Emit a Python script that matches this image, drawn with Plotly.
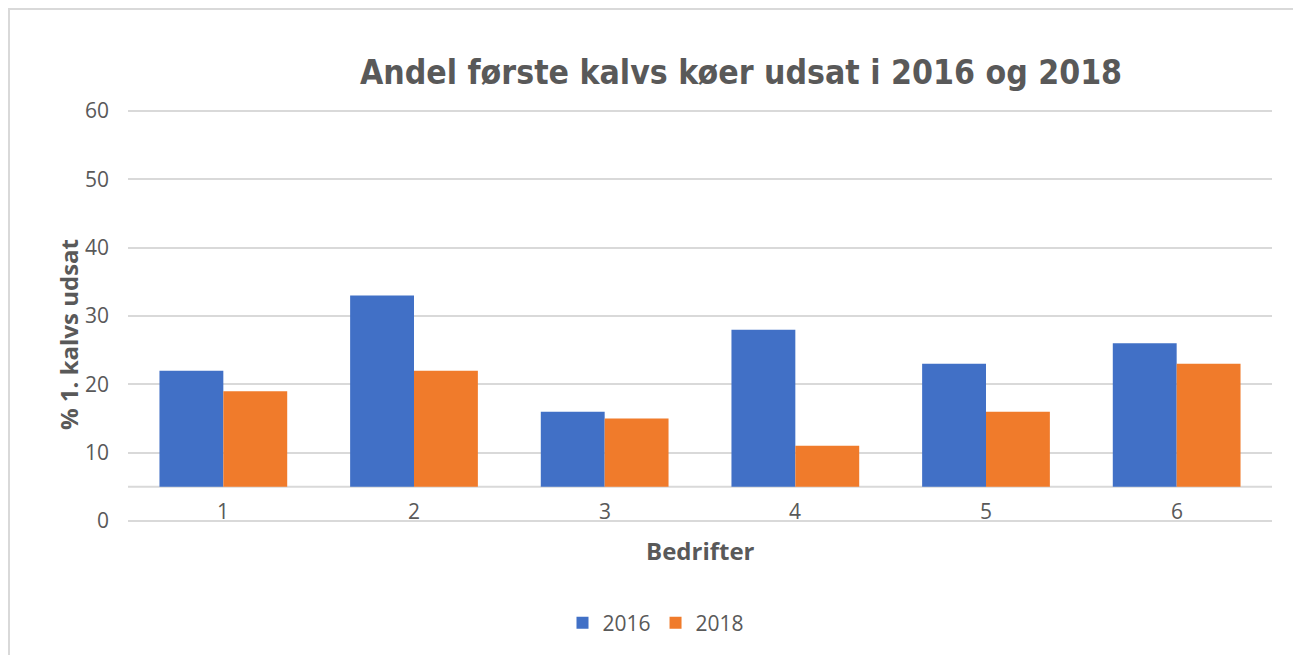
import plotly.graph_objects as go

categories = ["1", "2", "3", "4", "5", "6"]
values_2016 = [22, 33, 16, 28, 23, 26]
values_2018 = [19, 22, 15, 11, 16, 23]
series_names = ["2016", "2018"]
floor_value = 5  # visual 3D floor of the original chart
y_ticks = [0, 10, 20, 30, 40, 50, 60]

title_text = "Andel første kalvs køer udsat i 2016 og 2018"
x_title = "Bedrifter"
y_title = "% 1. kalvs udsat"

# the page body adds an 8px offset; figure coordinates are page coordinates minus OFF
OFF = 8
W, H = 1301, 655
PAD = 2  # px of extra room above 60 and below 0 so the edge gridlines are drawn
ML, MT = 128 - OFF, 111 - OFF - PAD
MR = W - (1272 - OFF)
MB = H - (521 - OFF) - PAD
PW = W - ML - MR
PH = H - MT - MB
UNIT = (521 - 111) / 60.0
Y_LO = -PAD / UNIT
Y_HI = 60 + PAD / UNIT

GREY_TXT = "#595959"
GRID = "#D9D9D9"
BLUE = "#4170C6"
ORANGE = "#F07B2B"

fig = go.Figure()
for name, vals, col in [(series_names[0], values_2016, BLUE), (series_names[1], values_2018, ORANGE)]:
    fig.add_trace(go.Bar(
        x=categories,
        y=[v - floor_value for v in vals],
        base=floor_value,
        name=name,
        marker=dict(color=col, line=dict(width=0)),
        customdata=vals,
        hovertemplate="%{x}: %{customdata}<extra>" + name + "</extra>",
    ))

def px_x(px):
    return (px - OFF - ML) / PW

def px_y(py):
    return (H - MB - (py - OFF)) / PH

annotations = [
    dict(text=x_title, xref="paper", yref="paper",
         x=px_x(700), y=px_y(550),
         xanchor="center", yanchor="middle", showarrow=False,
         font=dict(size=24, color=GREY_TXT, weight="bold")),
    dict(text=y_title, xref="paper", yref="paper",
         x=px_x(68), y=px_y(335),
         xanchor="center", yanchor="middle", showarrow=False, textangle=-90,
         font=dict(size=24, color=GREY_TXT, weight="bold")),
]
# category labels sit on the chart floor, just above the zero line
for i, c in enumerate(categories):
    annotations.append(dict(
        text=c, xref="x", yref="y", x=i, y=0,
        xanchor="center", yanchor="bottom", yshift=-6, showarrow=False,
        font=dict(size=21, color=GREY_TXT),
    ))

fig.update_layout(
    width=W, height=H,
    margin=dict(l=ML, r=MR, t=MT, b=MB, pad=0),
    paper_bgcolor="white", plot_bgcolor="white",
    barmode="group", bargap=0.33, bargroupgap=0,
    font=dict(family="Open Sans, Liberation Sans, sans-serif", color=GREY_TXT),
    title=dict(
        text=title_text,
        x=(741 - OFF) / W, xanchor="center",
        y=1 - (72 - OFF) / H, yanchor="middle",
        font=dict(family="DejaVu Sans Condensed, DejaVu Sans, sans-serif",
                  size=33.5, color=GREY_TXT, weight="bold"),
    ),
    xaxis=dict(
        type="category", range=[-0.5, 5.5],
        showgrid=False, zeroline=False, showline=False,
        ticks="", showticklabels=False,
    ),
    yaxis=dict(
        range=[Y_LO, Y_HI], tickvals=y_ticks,
        showgrid=True, gridcolor=GRID, gridwidth=2,
        zeroline=False, showline=False, ticks="",
        ticklabelstandoff=18,
        tickfont=dict(size=21, color=GREY_TXT),
    ),
    legend=dict(
        orientation="h", x=px_x(656), xanchor="center",
        y=px_y(623), yanchor="middle",
        font=dict(size=21, color=GREY_TXT),
        itemwidth=30, tracegroupgap=0,
    ),
    showlegend=True,
    shapes=[
        dict(type="line", xref="paper", yref="y", x0=0, x1=1, y0=floor_value, y1=floor_value,
             line=dict(color=GRID, width=2), layer="below"),
        dict(type="rect", xref="paper", yref="paper",
             x0=px_x(9), x1=px_x(1298),
             y0=px_y(720), y1=px_y(9),
             line=dict(color=GRID, width=2), fillcolor="rgba(0,0,0,0)"),
    ],
    annotations=annotations,
)

fig.write_html("out.html")
